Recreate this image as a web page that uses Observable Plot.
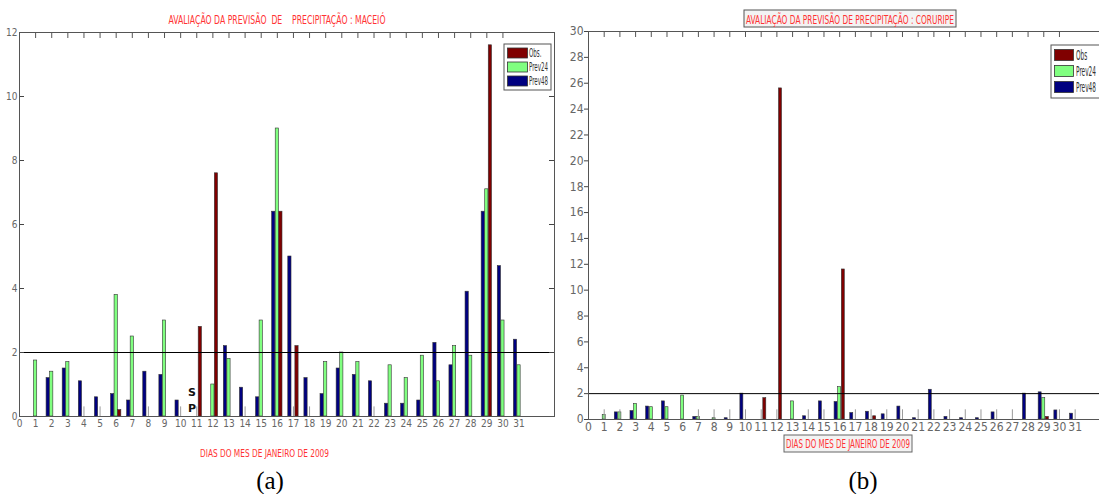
<!DOCTYPE html>
<html><head><meta charset="utf-8">
<script src="https://cdn.jsdelivr.net/npm/d3@7"></script>
<script src="https://cdn.jsdelivr.net/npm/@observablehq/plot@0.6"></script>
<style>
body{margin:0;background:#fff;}
#wrap{position:relative;width:1099px;height:494px;overflow:hidden;background:#fff;}
.panel{position:absolute;top:0;height:470px;}
#overlay{position:absolute;left:0;top:0;pointer-events:none;}
</style></head><body>
<div id="wrap"><div id="pa" class="panel" style="left:0;width:560px"></div><div id="pb" class="panel" style="left:560px;width:539px"></div></div>
<script>
// ---- categories / ticks ----
const days = [1,2,3,4,5,6,7,8,9,10,11,12,13,14,15,16,17,18,19,20,21,22,23,24,25,26,27,28,29,30,31];
const xTickLabels = [0,1,2,3,4,5,6,7,8,9,10,11,12,13,14,15,16,17,18,19,20,21,22,23,24,25,26,27,28,29,30,31];
const topTickDays = [1,2,3,4,5,6,7,8,9,10,11,12,13,14,15,16,17,18,19,20,21,22,23,24,25,26,27,28,29,30];
const yTicksA = [0,2,4,6,8,10,12];
const yTicksB = [0,2,4,6,8,10,12,14,16,18,20,22,24,26,28,30];
const seriesKeys = ["Obs","Prev24","Prev48"];
const legendA = ["Obs.","Prev24","Prev48"];
const legendB = ["Obs","Prev24","Prev48"];
const titleA = "AVALIAÇÃO DA PREVISÃO  DE    PRECIPITAÇÃO : MACEIÓ";
const titleB = "AVALIAÇÃO DA PREVISÃO DE PRECIPITAÇÃO : CORURIPE";
const xTitle = "DIAS DO MES DE JANEIRO DE 2009";
const threshold = 2;

// ---- panel (a) Maceió ----
const obsA = [0,0,0,0,0,0.2,0,0,0,0,2.8,7.6,0,0,0,6.4,2.2,0,0,0,0,0,0,0,0,0,0,0,11.6,0,0];
const p24A = [1.75,1.4,1.7,0,0,3.8,2.5,0,3.0,0,0,1.0,1.8,0,3.0,9.0,0,0,1.7,2.0,1.7,0,1.6,1.2,1.9,1.1,2.2,1.9,7.1,3.0,1.6];
const p48A = [0,1.2,1.5,1.1,0.6,0.7,0.5,1.4,1.3,0.5,0,0,2.2,0.9,0.6,6.4,5.0,1.2,0.7,1.5,1.3,1.1,0.4,0.4,0.5,2.3,1.6,3.9,6.4,4.7,2.4];
const grayDaysA = [4,5,8,10,11,14,17,18,22];
const grayValA = 0.3;
const notesA = [{day:10.7, y:0.75, label:"S"},{day:10.7, y:0.25, label:"P"}];

// ---- panel (b) Coruripe ----
const obsB = [0,0,0,0,0,0,0,0,0,0,1.65,25.6,0,0,0,11.6,0,0.25,0,0,0,0,0,0,0,0,0,0,0.2,0,0];
const p24B = [0.35,0.55,1.2,0.95,0.95,1.85,0.2,0.1,0,0,0,0,1.4,0,0,2.5,0,0,0,0,0,0,0,0,0,0,0,0,1.65,0,0];
const p48B = [0,0.55,0.65,1.0,1.4,0,0.2,0,0.1,2.0,0,0,0,0.25,1.4,1.35,0.5,0.6,0.4,1.0,0.1,2.3,0.2,0.1,0.1,0.55,0,2.0,2.1,0.7,0.45];
const grayDaysB = [1,2,7,8,9,10,11,12,14,15,17,18,19,20,21,22,23,24,25,26,27,30,31];
const grayValB = 0.75;

// ---- styles ----
const colors = {Obs:"#800000", Prev24:"#80ff80", Prev48:"#000080"};
const slot = {Prev48:-1, Prev24:0, Obs:1};
const NARROW = "'Liberation Sans Narrow','DejaVu Sans Condensed','Arial Narrow',sans-serif";
const RED = "#ff3333";

function toBars(obs, p24, p48) {
  const out = [];
  days.forEach((d, i) => {
    out.push({day:d, series:"Prev48", value:p48[i]});
    out.push({day:d, series:"Prev24", value:p24[i]});
    out.push({day:d, series:"Obs", value:obs[i]});
  });
  return out.filter(r => r.value > 0);
}

function makePanel(cfg) {
  const H = 470;
  const fw = cfg.width - cfg.ml - cfg.mr;
  const fh = H - cfg.mt - cfg.mb;
  const bars = toBars(cfg.obs, cfg.p24, cfg.p48);
  const marks = [
    Plot.rect(bars, {
      x1: d => d.day + slot[d.series]*cfg.step - cfg.bw/2,
      x2: d => d.day + slot[d.series]*cfg.step + cfg.bw/2,
      y1: 0, y2: "value", fill: "series", stroke: "#333", strokeWidth: 0.6
    }),
    Plot.ruleX(cfg.gray, {x: d => d, y1: 0, y2: cfg.grayVal, stroke: "#9a9a9a", strokeWidth: 1}),
    Plot.ruleY([threshold], {stroke: "#000", strokeWidth: 1}),
    Plot.tickX(topTickDays, {x: d => d, insetBottom: fh - 6, stroke: "#555"}),
    Plot.axisX({ticks: xTickLabels, label: null, tickSize: 0, tickPadding: cfg.xpad, tickFormat: d => String(d), fill: "#666", fontSize: cfg.fs}),
  ];
  if (cfg.inward) {
    marks.push(Plot.axisY({ticks: cfg.yTicks, label: null, tickSize: 0, tickPadding: 2, tickFormat: d => String(d), fill: "#666", fontSize: cfg.fs}));
    marks.push(Plot.tickY(cfg.yTicks, {y: d => d, insetRight: fw - 5, stroke: "#444"}));
    marks.push(Plot.tickY(cfg.yTicks, {y: d => d, insetLeft: fw - 5, stroke: "#444"}));
    marks.push(Plot.frame({stroke: "#555"}));
  } else {
    marks.push(Plot.axisY({ticks: cfg.yTicks, label: null, tickSize: 4, tickPadding: 1, tickFormat: d => String(d), fill: "#666", stroke: "#444", fontSize: cfg.fs}));
    marks.push(Plot.ruleX([0], {stroke: "#555"}));
    marks.push(Plot.ruleY([0], {stroke: "#555"}));
    marks.push(Plot.ruleY([cfg.yMax], {stroke: "#555"}));
  }
  if (cfg.notes) {
    marks.push(Plot.text(cfg.notes, {x: "day", y: "y", text: "label", fontWeight: "bold", fill: "#111", fontSize: 11, fontFamily: "'DejaVu Sans',sans-serif"}));
  }
  return Plot.plot({
    width: cfg.width, height: H,
    marginLeft: cfg.ml, marginRight: cfg.mr, marginTop: cfg.mt, marginBottom: cfg.mb,
    x: {domain: [0, cfg.xMax], label: null},
    y: {domain: [0, cfg.yMax], label: null},
    color: {domain: seriesKeys, range: seriesKeys.map(k => colors[k])},
    style: {fontFamily: NARROW, background: "transparent", overflow: "visible"},
    marks
  });
}

document.getElementById("pa").append(makePanel({
  width: 560, ml: 19, mr: 6, mt: 32, mb: 54, xMax: 33.2, yMax: 12, yTicks: yTicksA,
  obs: obsA, p24: p24A, p48: p48A, gray: grayDaysA, grayVal: grayValA,
  step: 0.22, bw: 0.2, fs: 10, xpad: 3, inward: true, notes: notesA
}));
document.getElementById("pb").append(makePanel({
  width: 539, ml: 28, mr: 0, mt: 31, mb: 51, xMax: 32.55, yMax: 30, yTicks: yTicksB,
  obs: obsB, p24: p24B, p48: p48B, gray: grayDaysB, grayVal: grayValB,
  step: 0.23, bw: 0.19, fs: 12, xpad: 3, inward: false
}));

// ---- overlay: titles, axis titles, legends, panel letters ----
const ov = d3.select("#wrap").append("svg").attr("id", "overlay").attr("width", 1099).attr("height", 494);
function txt(x, y, s, size, len, fill, family) {
  const t = ov.append("text").attr("x", x).attr("y", y).attr("text-anchor", "middle")
    .attr("font-family", family || NARROW).attr("font-size", size).attr("fill", fill).style("white-space", "pre").text(s);
  if (len) t.attr("textLength", len).attr("lengthAdjust", "spacingAndGlyphs");
  return t;
}
// panel a
txt(277, 24, titleA, 12, 217, RED);
txt(264.5, 457, xTitle, 10, 129, RED);
// panel b boxed title / xlabel
ov.append("rect").attr("x", 744).attr("y", 10).attr("width", 212).attr("height", 17).attr("fill", "#f3f3f3").attr("stroke", "#555");
txt(850, 23.5, titleB, 13, 208, RED);
ov.append("rect").attr("x", 784).attr("y", 435).attr("width", 128).attr("height", 17).attr("fill", "#f3f3f3").attr("stroke", "#666");
txt(848, 448, xTitle, 13, 124, RED);

function legend(x, y, w, h, names, rowYs, sw, swH, tx, fs, maxW) {
  ov.append("rect").attr("x", x).attr("y", y).attr("width", w).attr("height", h).attr("fill", "#fff").attr("stroke", "#555");
  const texts = names.map((n, i) => {
    ov.append("rect").attr("x", x + 3.5).attr("y", rowYs[i] - swH/2).attr("width", sw).attr("height", swH)
      .attr("fill", colors[seriesKeys[i]]).attr("stroke", "#333").attr("stroke-width", 0.8);
    return ov.append("text").attr("x", 0).attr("y", 0).attr("font-family", NARROW)
      .attr("font-size", fs).attr("fill", "#333").text(n);
  });
  const longest = d3.max(texts, t => t.node().getComputedTextLength());
  const sx = Math.min(1, maxW / longest);
  texts.forEach((t, i) => t.attr("transform", `translate(${tx},${rowYs[i] + fs*0.35}) scale(${sx},1)`));
}
legend(504, 44, 47, 46, legendA, [53, 67, 81], 20, 10, 529, 11.5, 19);
legend(1051, 45, 50, 53, legendB, [55, 71, 87], 19, 11, 1076, 13.5, 20);

txt(270, 489, "(a)", 25, null, "#000", "'Liberation Serif','Times New Roman',serif");
txt(863, 489, "(b)", 25, null, "#000", "'Liberation Serif','Times New Roman',serif");
</script>
</body></html>
